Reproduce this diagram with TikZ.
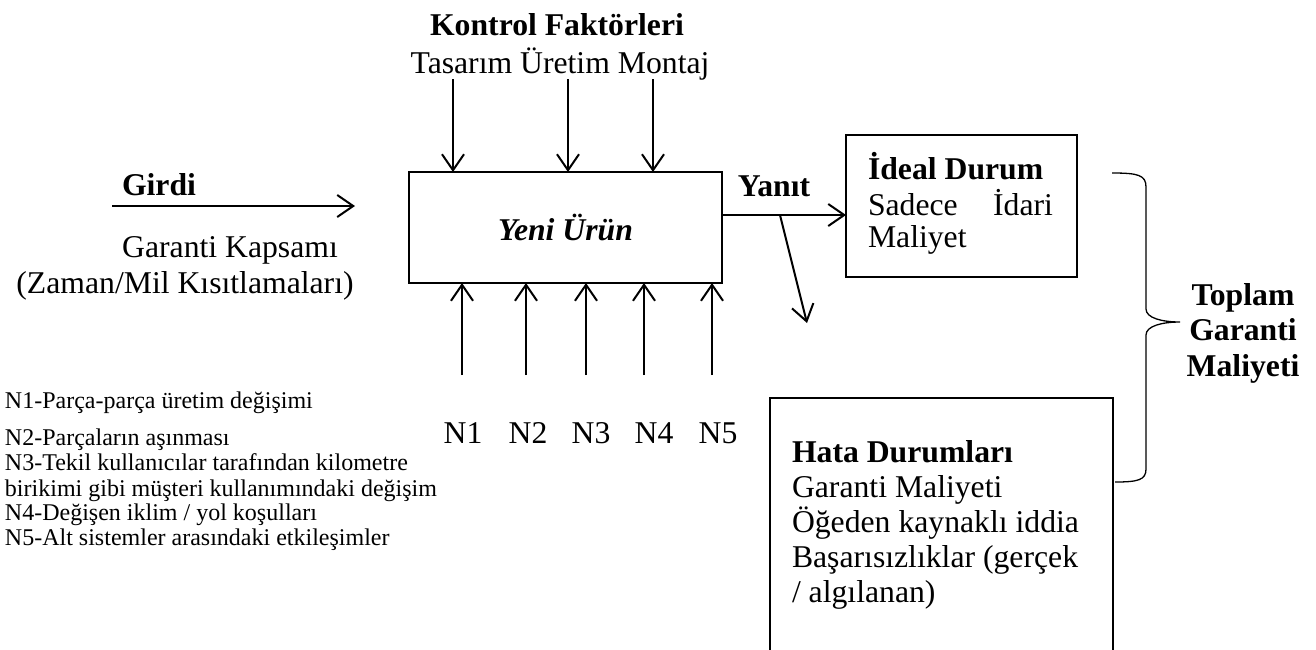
\documentclass[tikz,border=0pt]{standalone}
\usepackage{fontspec}
\setmainfont{Liberation Serif}
\usetikzlibrary{arrows.meta}
\begin{document}
\begin{tikzpicture}[x=1pt,y=-1pt,
  every node/.style={inner sep=0pt, outer sep=0pt},
  txt/.style={font=\fontsize{31.7}{35.5}\selectfont},
  btxt/.style={font=\fontsize{31.7}{35.5}\selectfont\bfseries},
  listtxt/.style={font=\fontsize{24}{27}\selectfont, anchor=base west},
  frame/.style={draw, line width=2.5pt},
  arr/.style={line width=2pt, -{Straight Barb[length=16pt,width=22pt]}},
]
\useasboundingbox (0,0) rectangle (1316,649);
\clip (0,0) rectangle (1316,649);

% process box
\node[frame, minimum width=313pt, minimum height=111pt, btxt]
  (prod) at (565.5,227.5) {\textit{Yeni Ürün}};

% control factors
\node[btxt, anchor=base] (kf) at (557,35) {Kontrol Faktörleri};
\node[txt, anchor=base] (tum) at (560,73) {Tasarım Üretim Montaj};
\coordinate (c1) at (453,79);
\coordinate (c2) at (568,79);
\coordinate (c3) at (653,79);
\foreach \c in {c1,c2,c3} \draw[arr] (\c) -- (\c |- prod.north);

% input
\node[btxt, anchor=base west] (girdi) at (122,195) {Girdi};
\coordinate (g0) at (112,206);
\coordinate (g1) at (355,206);
\draw[arr] (g0) -- (g1);
\node[txt, anchor=base] (gk) at (230,257) {Garanti Kapsamı};
\node[txt, anchor=base] (zm) at (185,293) {(Zaman/Mil Kısıtlamaları)};

% noise factors
\foreach \n/\x in {1/462,2/526,3/586,4/644,5/712} {
  \coordinate (n\n s) at (\x,375);
  \draw[arr] (n\n s) -- (n\n s |- prod.south);
}
\foreach \n/\x in {1/463,2/528,3/591,4/654,5/718}
  \node[txt, anchor=base] (nl\n) at (\x,443) {N\n};

\node[listtxt] (l1) at (5,408) {N1-Parça-parça üretim değişimi};
\node[listtxt] (l2) at (5,445) {N2-Parçaların aşınması};
\node[listtxt] (l3) at (5,470) {N3-Tekil kullanıcılar tarafından kilometre};
\node[listtxt] (l4) at (5,496) {birikimi gibi müşteri kullanımındaki değişim};
\node[listtxt] (l5) at (5,520) {N4-Değişen iklim / yol koşulları};
\node[listtxt] (l6) at (5,545) {N5-Alt sistemler arasındaki etkileşimler};

% response
\node[frame, minimum width=231pt, minimum height=142pt] (ideal) at (961.5,206) {};
\node[btxt, anchor=base west] (id1) at (868,179) {İdeal Durum};
\node[txt, anchor=base west] (id2) at (868,215) {\makebox[185pt][s]{Sadece İdari}};
\node[txt, anchor=base west] (id3) at (868,247) {Maliyet};

\node[btxt, anchor=base] (yanit) at (774,196) {Yanıt};
\coordinate (y0) at (prod.east |- 0,215);
\draw[arr] (y0) -- (y0 -| ideal.west);
\coordinate (d0) at (780,215);
\coordinate (d1) at (807,323);
\draw[arr] (d0) -- (d1);

% failure modes
\node[frame, anchor=north west, minimum width=343pt, minimum height=320pt] (hata) at (770,398) {};
\node[btxt, anchor=base west] (h1) at (792,462) {Hata Durumları};
\node[txt, anchor=base west] (h2) at (792,497) {Garanti Maliyeti};
\node[txt, anchor=base west] (h3) at (792,532) {Öğeden kaynaklı iddia};
\node[txt, anchor=base west] (h4) at (792,567) {Başarısızlıklar (gerçek};
\node[txt, anchor=base west] (h5) at (792,602) {/ algılanan)};

% total cost brace
\draw[line width=1.3pt]
  (1112,173) .. controls (1138,173) and (1146,175) .. (1146,187)
  -- (1146,309) .. controls (1146,318) and (1162,322) .. (1180,322)
  .. controls (1162,322) and (1146,326) .. (1146,335)
  -- (1146,469) .. controls (1146,480) and (1138,482) .. (1115,482);
\node[btxt, anchor=base] (t1) at (1243,305) {Toplam};
\node[btxt, anchor=base] (t2) at (1243,340) {Garanti};
\node[btxt, anchor=base] (t3) at (1243,376) {Maliyeti};
\end{tikzpicture}
\end{document}
